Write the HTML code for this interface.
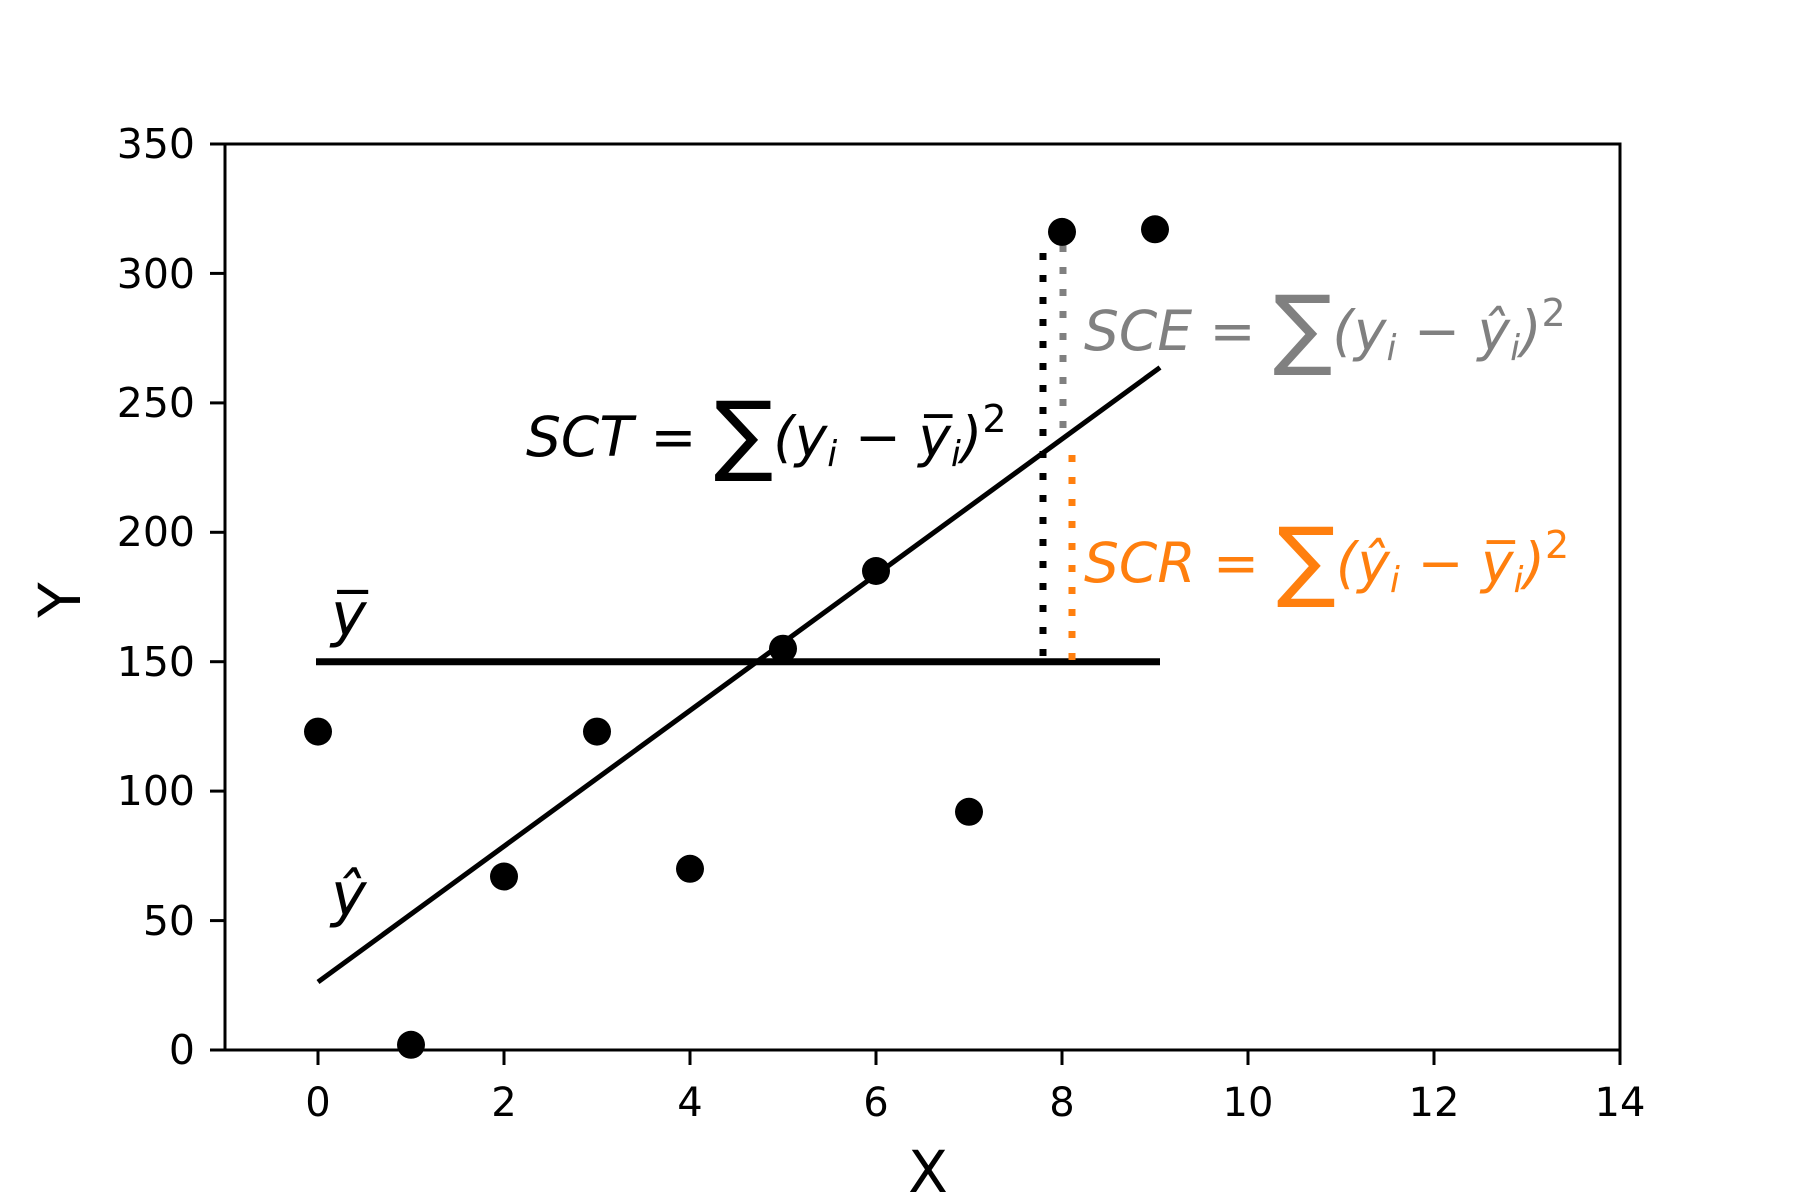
<!DOCTYPE html>
<html><head><meta charset="utf-8"><style>html,body{margin:0;padding:0;background:#fff}svg{display:block}</style></head><body>
<svg width="1800" height="1200" viewBox="0 0 1800 1200" xmlns="http://www.w3.org/2000/svg" font-family="DejaVu Sans, Liberation Sans, sans-serif">
<rect width="1800" height="1200" fill="#fff"/>
<line x1="316" y1="661.7" x2="1160" y2="661.7" stroke="#000" stroke-width="7"/>
<line x1="318" y1="982" x2="1160" y2="367.5" stroke="#000" stroke-width="5"/>
<line x1="1043" y1="656" x2="1043" y2="245" stroke="#000" stroke-width="7" stroke-dasharray="7 15"/>
<line x1="1063" y1="245" x2="1063" y2="430" stroke="#808080" stroke-width="7" stroke-dasharray="7 15"/>
<line x1="1072" y1="660" x2="1072" y2="455" stroke="#ff7f0e" stroke-width="7" stroke-dasharray="7 15"/>
<g fill="#000">
<circle cx="318" cy="731.6" r="14"/><circle cx="411" cy="1044.8" r="14"/><circle cx="504" cy="876.5" r="14"/>
<circle cx="597" cy="731.6" r="14"/><circle cx="690" cy="868.8" r="14"/><circle cx="783" cy="648.7" r="14"/>
<circle cx="876" cy="571" r="14"/><circle cx="969" cy="811.8" r="14"/><circle cx="1062" cy="231.9" r="14"/>
<circle cx="1155" cy="229.3" r="14"/>
</g>
<rect x="225" y="144" width="1395" height="906" fill="none" stroke="#000" stroke-width="3"/>
<g stroke="#000" stroke-width="3">
<line x1="318" y1="1050" x2="318" y2="1065"/><line x1="504" y1="1050" x2="504" y2="1065"/><line x1="690" y1="1050" x2="690" y2="1065"/>
<line x1="876" y1="1050" x2="876" y2="1065"/><line x1="1062" y1="1050" x2="1062" y2="1065"/><line x1="1248" y1="1050" x2="1248" y2="1065"/>
<line x1="1434" y1="1050" x2="1434" y2="1065"/><line x1="1620" y1="1050" x2="1620" y2="1065"/>
<line x1="210" y1="1050" x2="225" y2="1050"/><line x1="210" y1="920.6" x2="225" y2="920.6"/><line x1="210" y1="791.1" x2="225" y2="791.1"/>
<line x1="210" y1="661.7" x2="225" y2="661.7"/><line x1="210" y1="532.3" x2="225" y2="532.3"/><line x1="210" y1="402.9" x2="225" y2="402.9"/>
<line x1="210" y1="273.4" x2="225" y2="273.4"/><line x1="210" y1="144" x2="225" y2="144"/>
</g>
<g font-size="40" fill="#000" text-anchor="middle">
<text x="318" y="1116">0</text><text x="504" y="1116">2</text><text x="690" y="1116">4</text><text x="876" y="1116">6</text>
<text x="1062" y="1116">8</text><text x="1248" y="1116">10</text><text x="1434" y="1116">12</text><text x="1620" y="1116">14</text>
</g>
<g font-size="41" fill="#000" text-anchor="end">
<text x="195" y="1064">0</text><text x="195" y="935">50</text><text x="195" y="805">100</text><text x="195" y="676">150</text>
<text x="195" y="546">200</text><text x="195" y="417">250</text><text x="195" y="288">300</text><text x="195" y="158">350</text>
</g>
<text x="928" y="1192" font-size="58" text-anchor="middle">X</text>
<text transform="translate(80,600) rotate(-90)" font-size="58" text-anchor="middle">Y</text>
<text x="331" y="635" font-size="60" font-style="italic">y̅</text>
<text x="331" y="915" font-size="60" font-style="italic">ŷ</text>
<text x="526" y="456" font-size="55" font-style="italic" fill="#000">SCT = <tspan font-style="normal" font-size="88" dy="8">∑</tspan><tspan dy="-8">(y</tspan><tspan font-size="36" dy="10">i</tspan><tspan dy="-10"> − y̅</tspan><tspan font-size="36" dy="10">i</tspan><tspan dy="-10">)</tspan><tspan font-size="38" font-style="normal" dy="-24">2</tspan></text>
<text x="1084" y="350" font-size="55" font-style="italic" fill="#808080">SCE = <tspan font-style="normal" font-size="88" dy="8">∑</tspan><tspan dy="-8">(y</tspan><tspan font-size="36" dy="10">i</tspan><tspan dy="-10"> − ŷ</tspan><tspan font-size="36" dy="10">i</tspan><tspan dy="-10">)</tspan><tspan font-size="38" font-style="normal" dy="-24">2</tspan></text>
<text x="1084" y="582" font-size="55" font-style="italic" fill="#ff7f0e">SCR = <tspan font-style="normal" font-size="88" dy="8">∑</tspan><tspan dy="-8">(ŷ</tspan><tspan font-size="36" dy="10">i</tspan><tspan dy="-10"> − y̅</tspan><tspan font-size="36" dy="10">i</tspan><tspan dy="-10">)</tspan><tspan font-size="38" font-style="normal" dy="-24">2</tspan></text>
</svg>
</body></html>
